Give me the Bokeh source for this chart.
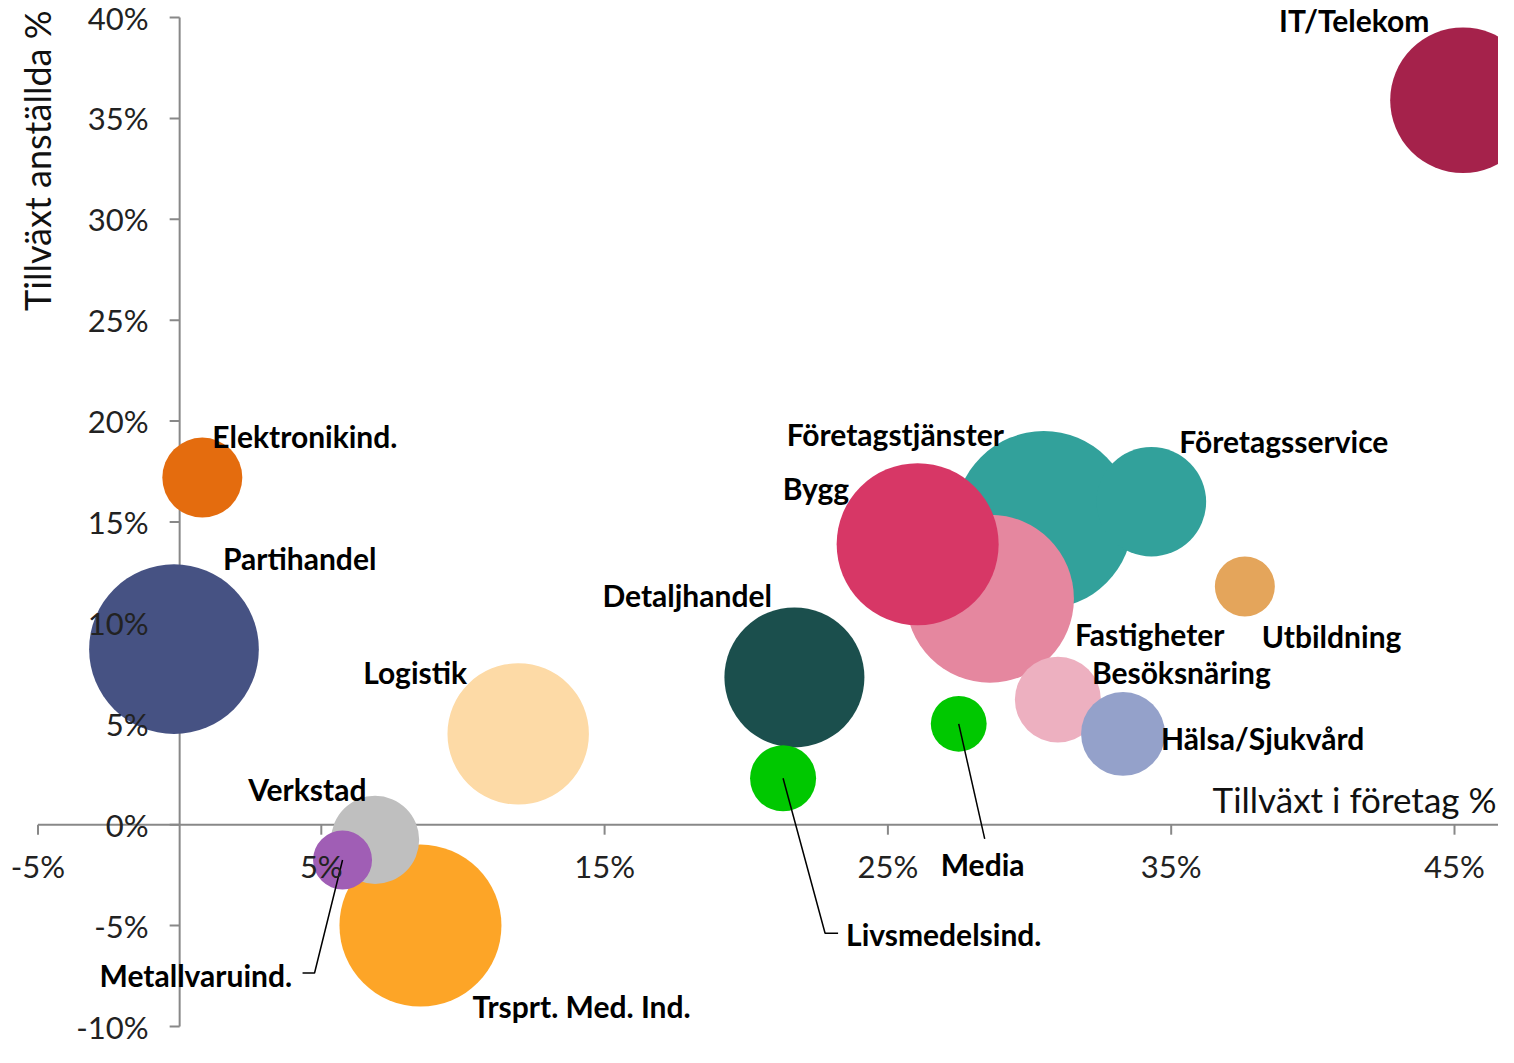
from bokeh.plotting import figure
from bokeh.models import Range1d, ColumnDataSource
from bokeh.embed import file_html
from bokeh.resources import INLINE
from bokeh.core.properties import value
import math

# ---- data ----
sectors = ["Företagstjänster", "Fastigheter", "Bygg", "Företagsservice", "IT/Telekom",
           "Elektronikind.", "Partihandel", "Logistik", "Trsprt. Med. Ind.", "Verkstad",
           "Metallvaruind.", "Detaljhandel", "Livsmedelsind.", "Media", "Utbildning",
           "Besöksnäring", "Hälsa/Sjukvård"]
growth_companies = [30.5, 28.6, 26.05, 34.3, 45.3,
                    0.8, -0.2, 11.95, 8.5, 6.9,
                    5.75, 21.7, 21.3, 27.5, 37.6,
                    31.0, 33.3]
growth_employees = [15.1, 11.2, 13.9, 16.0, 35.9,
                    17.2, 8.7, 4.5, -5.0, -0.75,
                    -1.75, 7.3, 2.3, 5.0, 11.8,
                    6.2, 4.5]
bubble_size = [79, 70.6, 65.6, 30, 53,
               16, 72, 50, 65.6, 19.4,
               8.7, 49, 10.9, 7.8, 9,
               18.5, 17.6]
colors = ["#32A19B", "#E5879F", "#D73766", "#32A19B", "#A5224B",
          "#E46C0E", "#465283", "#FDDAA6", "#FDA527", "#BFBFBF",
          "#A05EB5", "#1B4F4D", "#00C800", "#00C800", "#E4A55B",
          "#EDB0C0", "#94A1CA"]

x_ticks = [-5, 5, 15, 25, 35, 45]
x_tick_labels = ["-5%", "5%", "15%", "25%", "35%", "45%"]
y_ticks = [-10, -5, 0, 5, 10, 15, 20, 25, 30, 35, 40]
y_tick_labels = ["-10%", "-5%", "0%", "5%", "10%", "15%", "20%", "25%", "30%", "35%", "40%"]

x_title = "Tillväxt i företag %"
y_title = "Tillväxt anställda %"

# label offsets (screen px, relative to bubble centre: left edge / vertical middle)
label_dx = [-257, 85, -135, 28, -184, 10, 49, -155, 52, -127, -243, -192, 63, -18, 17, 34, 38]
label_dy = [-86, 35, -56, -61, -80, -42, -91, -62, 80, -51, 115, -82, 156, 140, 49, -28, 4]

# ---- layout ----
W, H = 1498, 1047
sx = 28.33          # px per percentage point (x)
sy = 20.18          # px per percentage point (y)
X0 = -5 - 37.5 / sx
X1 = X0 + W / sx
Y1 = 40 + 17 / sy
Y0 = Y1 - H / sy

p = figure(width=W, height=H, x_range=Range1d(X0, X1), y_range=Range1d(Y0, Y1),
           output_backend="svg", toolbar_location=None, min_border=0,
           x_axis_location=None, y_axis_location=None, outline_line_color=None)
p.grid.visible = False
p.background_fill_color = "white"

AX = "#888888"
# axis lines
p.segment(x0=[x_ticks[0], 0], y0=[0, y_ticks[0]], x1=[X1, 0], y1=[0, y_ticks[-1]],
          line_color=AX, line_width=2)
# ticks
p.segment(x0=x_ticks, y0=[0] * len(x_ticks), x1=x_ticks, y1=[-10 / sy] * len(x_ticks),
          line_color=AX, line_width=2)
p.segment(x0=[-10 / sx] * len(y_ticks), y0=y_ticks, x1=[0] * len(y_ticks), y1=y_ticks,
          line_color=AX, line_width=2)

# bubbles
src = ColumnDataSource(dict(x=growth_companies, y=growth_employees,
                            d=[20 * math.sqrt(v) for v in bubble_size], c=colors,
                            name=sectors, dx=label_dx, dy=label_dy))
p.scatter(x="x", y="y", size="d", fill_color="c", line_color=None, source=src)

# leader lines
leaders = {"Media": [(26, 115)],
           "Livsmedelsind.": [(42, 155), (55, 155)],
           "Metallvaruind.": [(-28, 113), (-40, 113)]}
lx, ly = [], []
for name, pts in leaders.items():
    i = sectors.index(name)
    cx, cy = growth_companies[i], growth_employees[i]
    xs = [cx] + [cx + a / sx for a, b in pts]
    ys = [cy] + [cy - b / sy for a, b in pts]
    lx.append(xs)
    ly.append(ys)
p.multi_line(xs=lx, ys=ly, line_color="black", line_width=1.5)

# tick labels
TF = value("Lato")
p.text(x=x_ticks, y=[0] * len(x_ticks), text=x_tick_labels, y_offset=41,
       text_align="center", text_baseline="middle", text_font=TF,
       text_font_size="31px", text_color="#222222")
p.text(x=[0] * len(y_ticks), y=y_ticks, text=y_tick_labels, x_offset=-31,
       text_align="right", text_baseline="middle", text_font=TF,
       text_font_size="31px", text_color="#222222")

# axis titles
p.text(x=[X1], y=[0], text=[x_title], x_offset=-2, y_offset=-26,
       text_align="right", text_baseline="middle", text_font=TF,
       text_font_size="35px", text_color="#111111")
p.text(x=[X0], y=[Y1], text=[y_title], x_offset=36, y_offset=10,
       angle=math.pi / 2, text_align="right", text_baseline="middle", text_font=TF,
       text_font_size="36px", text_color="#111111")

# data labels
p.text(x="x", y="y", text="name", x_offset="dx", y_offset="dy", source=src,
       text_align="left", text_baseline="middle", text_font=TF,
       text_font_style="bold", text_font_size="30px", text_color="black")

open("out.html", "w").write(file_html(p, INLINE))
